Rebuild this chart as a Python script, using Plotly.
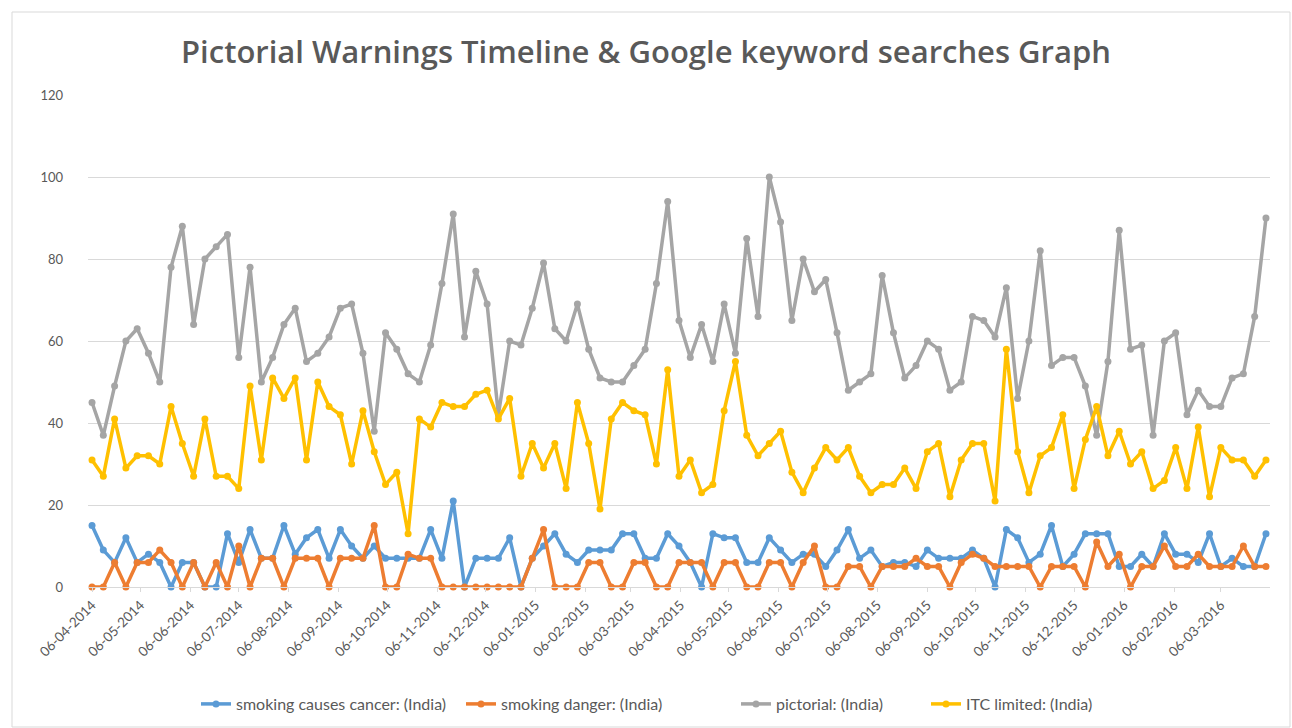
import pandas as pd
import plotly.graph_objects as go

# Weekly Google Trends observations (week starting Sunday)
week_start = pd.date_range(start="2014-04-06", periods=105, freq="7D")

smoking_causes_cancer = [
    15, 9, 6, 12, 6, 8, 6, 0, 6, 6, 0, 0, 13, 6, 14, 7, 7, 15, 8, 12,
    14, 7, 14, 10, 7, 10, 7, 7, 7, 7, 14, 7, 21, 0, 7, 7, 7, 12, 0, 7,
    10, 13, 8, 6, 9, 9, 9, 13, 13, 7, 7, 13, 10, 6, 0, 13, 12, 12, 6, 6,
    12, 9, 6, 8, 8, 5, 9, 14, 7, 9, 5, 6, 6, 5, 9, 7, 7, 7, 9, 7,
    0, 14, 12, 6, 8, 15, 5, 8, 13, 13, 13, 5, 5, 8, 5, 13, 8, 8, 6, 13,
    5, 7, 5, 5, 13,
]
smoking_danger = [
    0, 0, 6, 0, 6, 6, 9, 6, 0, 6, 0, 6, 0, 10, 0, 7, 7, 0, 7, 7,
    7, 0, 7, 7, 7, 15, 0, 0, 8, 7, 7, 0, 0, 0, 0, 0, 0, 0, 0, 7,
    14, 0, 0, 0, 6, 6, 0, 0, 6, 6, 0, 0, 6, 6, 6, 0, 6, 6, 0, 0,
    6, 6, 0, 6, 10, 0, 0, 5, 5, 0, 5, 5, 5, 7, 5, 5, 0, 6, 8, 7,
    5, 5, 5, 5, 0, 5, 5, 5, 0, 11, 5, 8, 0, 5, 5, 10, 5, 5, 8, 5,
    5, 5, 10, 5, 5,
]
pictorial = [
    45, 37, 49, 60, 63, 57, 50, 78, 88, 64, 80, 83, 86, 56, 78, 50, 56, 64, 68, 55,
    57, 61, 68, 69, 57, 38, 62, 58, 52, 50, 59, 74, 91, 61, 77, 69, 42, 60, 59, 68,
    79, 63, 60, 69, 58, 51, 50, 50, 54, 58, 74, 94, 65, 56, 64, 55, 69, 57, 85, 66,
    100, 89, 65, 80, 72, 75, 62, 48, 50, 52, 76, 62, 51, 54, 60, 58, 48, 50, 66, 65,
    61, 73, 46, 60, 82, 54, 56, 56, 49, 37, 55, 87, 58, 59, 37, 60, 62, 42, 48, 44,
    44, 51, 52, 66, 90,
]
itc_limited = [
    31, 27, 41, 29, 32, 32, 30, 44, 35, 27, 41, 27, 27, 24, 49, 31, 51, 46, 51, 31,
    50, 44, 42, 30, 43, 33, 25, 28, 13, 41, 39, 45, 44, 44, 47, 48, 41, 46, 27, 35,
    29, 35, 24, 45, 35, 19, 41, 45, 43, 42, 30, 53, 27, 31, 23, 25, 43, 55, 37, 32,
    35, 38, 28, 23, 29, 34, 31, 34, 27, 23, 25, 25, 29, 24, 33, 35, 22, 31, 35, 35,
    21, 58, 33, 23, 32, 34, 42, 24, 36, 44, 32, 38, 30, 33, 24, 26, 34, 24, 39, 22,
    34, 31, 31, 27, 31,
]

series_names = [
    "smoking causes cancer: (India)",
    "smoking danger: (India)",
    "pictorial: (India)",
    "ITC limited: (India)",
]
series_values = [smoking_causes_cancer, smoking_danger, pictorial, itc_limited]
series_colors = ["#5B9BD5", "#ED7D31", "#A5A5A5", "#FFC000"]

# Monthly axis ticks on the 6th of each month
tick_dates = pd.date_range(start="2014-04-01", end="2016-03-01", freq="MS") + pd.Timedelta(days=5)
tick_labels = [d.strftime("%d-%m-%Y") for d in tick_dates]

y_ticks = [0, 20, 40, 60, 80, 100, 120]

text_grey = "#595959"
PLOT_L, PLOT_R, PLOT_T, PLOT_B = 88, 1270, 95, 587
PLOT_W, PLOT_H = PLOT_R - PLOT_L, PLOT_B - PLOT_T

# one legend box per series so the entries sit at their own positions
legend_ids = ["legend", "legend2", "legend3", "legend4"]
legend_left_px = [196, 461, 736, 926]

fig = go.Figure()
for name, vals, col, lid in zip(series_names, series_values, series_colors, legend_ids):
    fig.add_trace(go.Scatter(
        x=week_start, y=vals, name=name, mode="lines+markers",
        line=dict(color=col, width=3.5),
        marker=dict(color=col, size=7, symbol="circle"),
        cliponaxis=False, legend=lid,
    ))

legend_layout = {}
for lid, px in zip(legend_ids, legend_left_px):
    legend_layout[lid] = dict(
        orientation="h", x=(px - PLOT_L) / PLOT_W, xanchor="left",
        y=-(704 - PLOT_B) / PLOT_H, yanchor="middle",
        font=dict(size=16, color=text_grey), itemwidth=30,
        bgcolor="rgba(0,0,0,0)",
    )

fig.update_layout(
    width=1292, height=728,
    margin=dict(l=PLOT_L, r=1292 - PLOT_R, t=PLOT_T, b=728 - PLOT_B, autoexpand=False),
    paper_bgcolor="white", plot_bgcolor="white",
    font=dict(family="Lato, 'Open Sans', sans-serif", color=text_grey, size=12),
    title=dict(
        text="Pictorial Warnings Timeline & Google keyword searches Graph",
        x=0.5, xanchor="center", y=0.929, yanchor="middle",
        font=dict(size=31, color=text_grey, family="'Open Sans', sans-serif", weight=600),
    ),
    showlegend=True,
    xaxis=dict(
        type="date",
        range=[pd.Timestamp("2014-04-06") - pd.Timedelta(days=2.5),
               pd.Timestamp("2016-04-03") + pd.Timedelta(days=2.5)],
        tickvals=list(tick_dates), ticktext=tick_labels, tickangle=-45,
        showgrid=False, showline=True, linecolor="#D9D9D9", linewidth=1,
        ticks="outside", ticklen=4, tickcolor="#D9D9D9",
        tickfont=dict(size=13.5, color=text_grey), zeroline=False,
    ),
    yaxis=dict(
        range=[0, 120], tickvals=y_ticks, showgrid=True, gridcolor="#D9D9D9",
        gridwidth=1, zeroline=False, showline=False, ticks="",
        tickfont=dict(size=13, color=text_grey), ticklabelstandoff=24,
    ),
    shapes=[dict(type="rect", xref="paper", yref="paper",
                 x0=(12 - PLOT_L) / PLOT_W, x1=(1290 - PLOT_L) / PLOT_W,
                 y0=(PLOT_B - 727) / PLOT_H, y1=(PLOT_B - 12) / PLOT_H,
                 line=dict(color="#D9D9D9", width=1), fillcolor="rgba(0,0,0,0)")],
    **legend_layout,
)

fig.write_html("out.html")
